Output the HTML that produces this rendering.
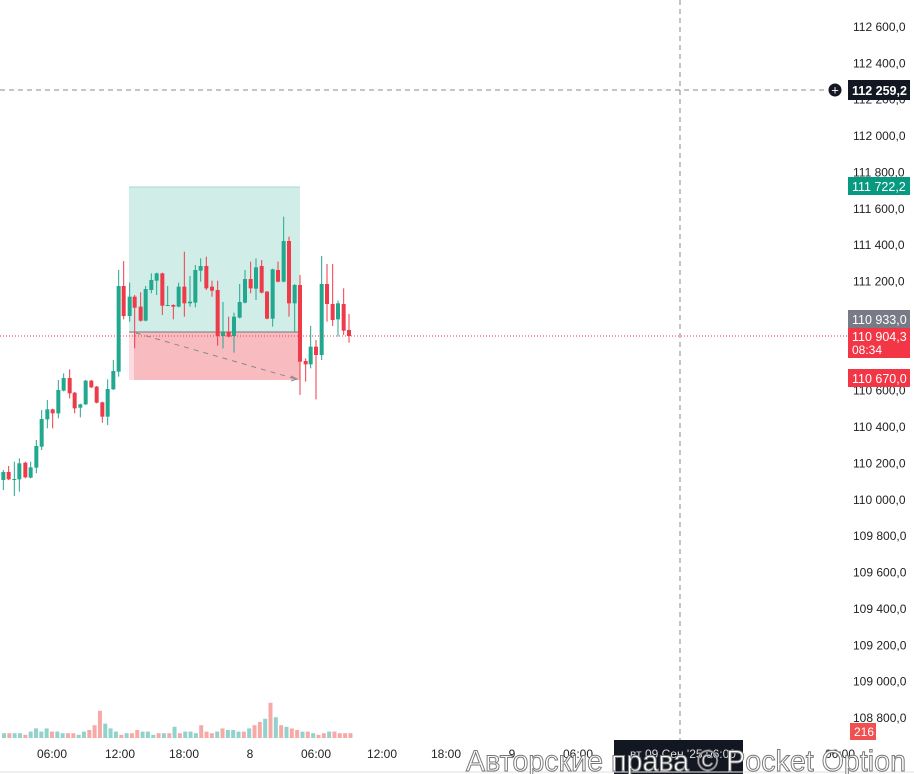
<!DOCTYPE html>
<html><head><meta charset="utf-8"><style>
body{margin:0;width:914px;height:774px;overflow:hidden;background:#fff;font-family:"Liberation Sans",sans-serif}
svg{display:block}
</style></head><body>
<svg id="s" width="914" height="774" xmlns="http://www.w3.org/2000/svg">
<line x1="0" y1="90" x2="826" y2="90" stroke="#888" stroke-dasharray="5,4" stroke-width="1"/>
<line x1="680" y1="0" x2="680" y2="740" stroke="#888" stroke-dasharray="5,4" stroke-width="1"/>
<rect x="129" y="187" width="171" height="145" fill="#d1ede7"/>
<rect x="129" y="332" width="171" height="48" fill="#f8bcc0"/>
<rect x="129" y="332" width="5" height="48" fill="#fcdcde"/>
<line x1="129" y1="187" x2="300" y2="187" stroke="#a8d8ce"/>
<line x1="129" y1="332" x2="300" y2="332" stroke="#777" stroke-width="1"/>
<line x1="136" y1="333" x2="296" y2="379" stroke="#888" stroke-dasharray="5,5"/>
<path d="M291 376 L297 379 L291 381" fill="none" stroke="#888"/>
<g id="c"></g>
<g id="v"></g>
<line x1="0" y1="336" x2="848" y2="336" stroke="#f23645" stroke-dasharray="1,2" stroke-width="1"/>
<g font-size="12" fill="#222" id="ax"></g>
<circle cx="835" cy="90" r="7" fill="#131722" stroke="#fff"/>
<text x="835" y="94.5" font-size="13" fill="#fff" text-anchor="middle">+</text>
<rect x="848" y="80" width="62" height="20" fill="#131722"/>
<text x="852" y="95" font-size="12.5" font-weight="bold" fill="#fff">112 259,2</text>
<rect x="848" y="177" width="62" height="18" fill="#089981"/>
<text x="852" y="191" font-size="12.5" fill="#fff">111 722,2</text>
<rect x="848" y="310" width="62" height="18" fill="#787b86"/>
<text x="852" y="324" font-size="12.5" fill="#fff">110 933,0</text>
<rect x="848" y="328" width="62" height="30" fill="#f23645"/>
<text x="852" y="341" font-size="12.5" fill="#fff">110 904,3</text>
<text x="852" y="354" font-size="12" fill="#fff">08:34</text>
<rect x="848" y="369" width="62" height="18" fill="#f23645"/>
<text x="852" y="383" font-size="12.5" fill="#fff">110 670,0</text>
<rect x="850" y="723" width="26" height="17" fill="#f05050"/>
<text x="854" y="736" font-size="12" fill="#fff">216</text>
<g font-size="12" fill="#222">
<text x="52" y="758" text-anchor="middle">06:00</text>
<text x="120" y="758" text-anchor="middle">12:00</text>
<text x="184" y="758" text-anchor="middle">18:00</text>
<text x="250" y="758" text-anchor="middle">8</text>
<text x="316" y="758" text-anchor="middle">06:00</text>
<text x="382" y="758" text-anchor="middle">12:00</text>
<text x="446" y="758" text-anchor="middle">18:00</text>
<text x="512" y="758" text-anchor="middle">9</text>
<text x="578" y="758" text-anchor="middle">06:00</text>
<text x="840" y="758" text-anchor="middle">06:00</text>
</g>
<rect x="614" y="740" width="129" height="34" fill="#131722"/>
<text x="630" y="758" font-size="12" fill="#ddd">вт 09 Сен '25  06:00</text>
<line x1="0" y1="772" x2="914" y2="772" stroke="#e0e0e0"/>
<text x="466" y="771" font-size="30" fill="#fff" stroke="#777" stroke-width="1" textLength="440" lengthAdjust="spacingAndGlyphs">Авторские права © Pocket Option</text>
</svg>
<script>
var d=[[10,'G',876,900,870,930],[26,'R',876,898,858,900],[43,'G',897,900,845,948],[58,'G',850,898,835,935],[76,'R',848,892,845,895],[92,'G',862,893,845,895],[109,'G',798,863,780,880],[125,'G',717,800,690,810],[142,'G',688,718,660,745],[158,'R',688,700,686,745],[175,'G',630,700,600,715],[191,'G',594,632,580,634],[209,'R',594,640,568,655],[224,'R',638,685,636,700],[241,'G',673,683,671,712],[257,'G',602,673,600,675],[274,'R',602,622,600,624],[290,'R',620,668,618,670],[307,'R',667,710,665,728],[323,'G',627,710,598,735],[340,'G',573,628,540,630],[356,'G',318,575,270,590],[371,'R',318,408,243,418],[389,'G',350,408,308,425],[404,'R',350,383,345,505],[422,'R',380,422,337,425],[437,'G',327,422,318,424],[454,'G',300,330,280,340],[470,'G',280,302,278,345],[487,'R',280,377,278,405],[503,'G',375,378,318,378],[520,'R',375,380,373,418],[536,'G',320,380,308,382],[553,'R',320,370,215,410],[570,'G',365,370,288,380],[586,'G',270,368,255,382],[602,'G',258,272,235,305],[619,'R',258,325,230,330],[636,'R',320,332,302,350],[653,'R',330,468,302,497],[669,'G',455,468,366,505],[686,'R',455,470,410,472],[702,'G',410,468,398,518],[719,'G',366,413,312,415],[735,'G',297,368,270,370],[752,'R',297,325,245,340],[768,'G',262,326,235,360],[785,'R',258,338,240,340],[801,'R',335,416,333,418],[818,'G',268,416,266,440],[834,'R',270,305,245,307],[851,'G',183,305,110,307],[867,'R',183,370,170,410],[884,'G',315,370,312,455],[900,'R',315,545,285,645],[917,'R',543,553,535,605],[932,'G',500,553,438,565],[948,'R',500,525,480,658],[965,'G',312,525,228,540],[981,'R',312,372,252,425],[998,'R',372,420,252,438],[1014,'G',370,418,362,470],[1031,'R',372,452,325,465],[1047,'R',450,468,402,488]];
var s='',v='';
d.forEach(function(c,i){var x=c[0]/3,col=c[1]=='G'?'#22a88f':'#ee3b4a';
var t=180+c[2]/3,b=180+c[3]/3,h=180+c[4]/3,l=180+c[5]/3;
s+='<line x1="'+x+'" y1="'+h+'" x2="'+x+'" y2="'+l+'" stroke="'+col+'" stroke-width="1"/>';
s+='<rect x="'+(x-2)+'" y="'+t+'" width="4" height="'+Math.max(1,b-t)+'" fill="'+col+'"/>';});
for(var i=0;i<67;i++){var x=i*5.33+2;var hh=[3,3,3,3,2,4,6,4,6,4,4,3,3,3,2,4,5,8,17,9,6,4,2,3,3,5,4,4,2,3,3,3,7,3,4,4,3,8,4,3,4,6,5,5,4,4,6,8,10,12,22,13,8,7,6,5,4,4,3,2,3,4,4,3,3,3,3][i];
var dd=d[i]||d[d.length-1];var col=dd[1]=='R'?'#f7a9a7':'#92d2cc';v+='<rect x="'+x+'" y="'+(738-hh*1.6)+'" width="4" height="'+hh*1.6+'" fill="'+col+'"/>';if(x>345)break;}
document.getElementById('c').innerHTML=s;document.getElementById('v').innerHTML=v;
var a='';var ticks=[112600,112400,112200,112000,111800,111600,111400,111200,110600,110400,110200,110000,109800,109600,109400,109200,109000,108800];
ticks.forEach(function(p){var y=27+(112600-p)*0.18184;var str=(p+'').replace(/(\d{3})(\d{3})$/,'$1 $2')+',0';a+='<text x="853" y="'+(y+4)+'">'+str+'</text>';});
document.getElementById('ax').innerHTML=a;
</script>
</body></html>
